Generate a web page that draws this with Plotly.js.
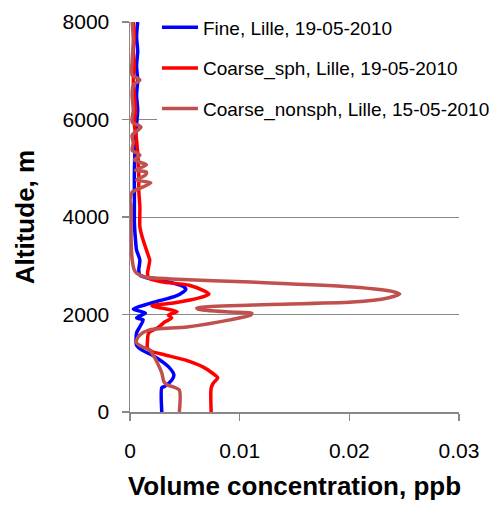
<!DOCTYPE html>
<html>
<head>
<meta charset="utf-8">
<script src="https://cdn.plot.ly/plotly-3.0.1.min.js"></script>
<style>html,body{margin:0;padding:0;background:#fff;}#chart{width:491px;height:505px;}</style>
</head>
<body>
<div id="chart"></div>
<script>
// Fine, Lille, 19-05-2010
const fineAlt = [0, 500, 520, 650, 760, 930, 1130, 1270, 1370, 1620, 1750, 1890, 1930, 2030, 2110, 2160, 2260, 2370, 2470, 2520, 2570, 2670, 2740, 2810, 2910, 3120, 3320, 3530, 3880, 4200, 4550, 4900, 5580, 5900, 6200, 6500, 6800, 7100, 7400, 7700, 8000];
const fineVal = [0.0029, 0.0029, 0.0031, 0.0038, 0.0040, 0.0035, 0.0023, 0.0011, 0.0006, 0.0006, 0.0009, 0.0012, 0.0006, 0.0014, 0.0003, 0.0008, 0.0023, 0.0041, 0.0049, 0.0051, 0.0049, 0.0035, 0.0017, 0.0009, 0.0008, 0.0009, 0.0006, 0.0005, 0.0004, 0.0004, 0.0004, 0.0004, 0.0005, 0.0006, 0.0007, 0.0006, 0.0007, 0.0006, 0.0007, 0.0006, 0.0007];

// Coarse_sph, Lille, 19-05-2010
const sphAlt = [0, 490, 595, 700, 800, 930, 1070, 1170, 1240, 1310, 1480, 1620, 1740, 1850, 1930, 1990, 2060, 2130, 2175, 2240, 2340, 2420, 2500, 2600, 2670, 2750, 2850, 2980, 3120, 3190, 3390, 3600, 3800, 4210, 4550, 4900, 5580, 5900, 6200, 6500, 6800, 7100, 7400, 7700, 8000];
const sphVal = [0.0074, 0.0074, 0.0076, 0.0080, 0.0075, 0.0066, 0.0050, 0.0032, 0.0020, 0.0016, 0.0016, 0.0017, 0.0026, 0.0032, 0.0038, 0.0035, 0.0043, 0.0029, 0.0020, 0.0041, 0.0063, 0.0072, 0.0066, 0.0054, 0.0029, 0.0017, 0.0016, 0.0017, 0.0018, 0.0017, 0.0014, 0.0011, 0.0009, 0.0009, 0.0008, 0.0008, 0.0006, 0.0004, 0.0005, 0.0004, 0.0003, 0.0004, 0.0003, 0.0004, 0.0003];

// Coarse_nonsph, Lille, 15-05-2010
const nonAlt = [0, 450, 520, 555, 620, 800, 1005, 1135, 1270, 1340, 1415, 1480, 1580, 1680, 1745, 1890, 1990, 2030, 2050, 2110, 2135, 2195, 2255, 2340, 2420, 2480, 2565, 2665, 2730, 2770, 2850, 2910, 3120, 3530, 3880, 4210, 4350, 4510, 4550, 4700, 4760, 4860, 4920, 4960, 5070, 5170, 5270, 5370, 5520, 5680, 5845, 5950, 6190, 6500, 6710, 6810, 6910, 7220, 7630, 8000];
const nonVal = [0.0045, 0.0045, 0.0039, 0.0034, 0.0031, 0.0029, 0.0025, 0.0022, 0.0018, 0.0011, 0.0006, 0.0006, 0.0009, 0.0017, 0.0052, 0.0091, 0.0110, 0.0111, 0.0091, 0.0062, 0.0061, 0.0112, 0.0203, 0.0235, 0.0246, 0.0238, 0.0203, 0.0110, 0.0037, 0.0014, 0.0006, 0.0004, 0.0002, 0.0001, 0.0001, 0.0001, 0.0000, 0.0002, 0.0005, 0.0019, 0.0006, 0.0014, 0.0015, 0.0005, 0.0015, 0.0004, 0.0009, 0.0002, 0.0003, 0.0002, 0.0010, 0.0002, 0.0003, 0.0002, 0.0003, 0.0009, 0.0002, 0.0002, 0.0003, 0.0002];

const names = ["Fine, Lille, 19-05-2010", "Coarse_sph, Lille, 19-05-2010", "Coarse_nonsph, Lille, 15-05-2010"];
const colors = ["#0000FF", "#FF0000", "#C0504D"];
const xTickVals = [0, 0.01, 0.02, 0.03];
const xTickText = ["0", "0.01", "0.02", "0.03"];
const yTickVals = [0, 2000, 4000, 6000, 8000];
const yTickText = ["0", "2000", "4000", "6000", "8000"];

const font = "Liberation Sans, Arial, sans-serif";
const series = [[fineVal, fineAlt], [sphVal, sphAlt], [nonVal, nonAlt]];
const traces = series.map((s, i) => ({
  x: s[0], y: s[1], type: "scatter", mode: "lines", name: names[i],
  legendgroup: "g" + i,
  line: {color: colors[i], width: 3.5, shape: "spline", smoothing: 0.7}
}));

const layout = {
  width: 491, height: 505,
  margin: {l: 130, r: 32, t: 22, b: 93, autoexpand: false},
  paper_bgcolor: "#fff", plot_bgcolor: "#fff",
  font: {family: font, size: 19, color: "#000"},
  showlegend: true,
  legend: {x: 0.082, xanchor: "left", y: 1.035, yanchor: "top", bgcolor: "#fff",
    borderwidth: 0, font: {family: font, size: 19, color: "#000"},
    traceorder: "grouped", tracegroupgap: 13, itemwidth: 36},
  xaxis: {range: [0, 0.03], tickvals: xTickVals, ticktext: xTickText,
    showgrid: false, zeroline: false, showline: true, linecolor: "#888", linewidth: 1.5,
    ticks: "outside", ticklen: 7, tickcolor: "#888", tickwidth: 1.5,
    ticklabelstandoff: 12, tickfont: {family: font, size: 21},
    title: {text: "Volume concentration, ppb", standoff: 16, font: {family: font, size: 26, weight: "bold"}}},
  yaxis: {range: [0, 8000], tickvals: yTickVals, ticktext: yTickText,
    showgrid: true, gridcolor: "#888", gridwidth: 1, zeroline: false,
    showline: true, linecolor: "#888", linewidth: 1.5,
    ticks: "outside", ticklen: 7, tickcolor: "#888", tickwidth: 1.5,
    ticklabelstandoff: 8, tickfont: {family: font, size: 21},
    title: {text: "Altitude, m", standoff: 20, font: {family: font, size: 26, weight: "bold"}}}
};

Plotly.newPlot("chart", traces, layout, {staticPlot: true, displayModeBar: false});
</script>
</body>
</html>
